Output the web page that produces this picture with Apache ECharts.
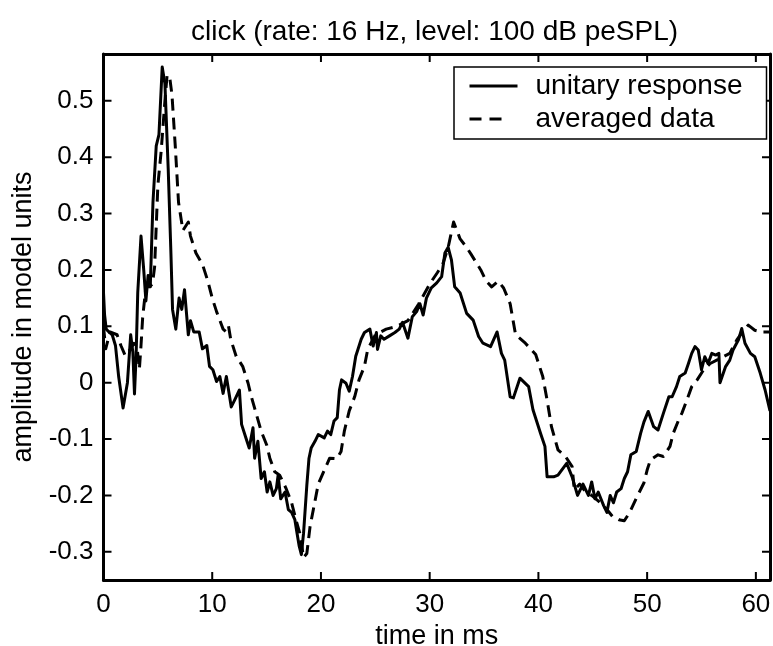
<!DOCTYPE html>
<html>
<head>
<meta charset="utf-8">
<script src="https://cdn.jsdelivr.net/npm/echarts@6/dist/echarts.min.js"></script>
<style>
html,body{margin:0;padding:0;background:#fff;}
#chart{width:773px;height:646px;}
</style>
</head>
<body>
<div id="chart"></div>
<script>
// ---- data ----
const unitaryTime = [0.0,0.1,0.25,0.5,0.8,1.1,1.4,1.8,2.2,2.5,2.7,2.85,3.0,3.15,3.45,3.7,3.9,4.1,4.3,4.55,4.85,5.1,5.4,5.65,5.95,6.2,6.35,6.65,6.95,7.2,7.45,7.8,8.0,8.3,8.8,9.1,9.5,9.75,10.06,10.4,10.7,11.0,11.3,11.75,12.06,12.5,12.7,13.1,13.4,13.75,13.9,14.2,14.5,14.8,15.05,15.3,15.6,15.9,16.06,16.3,16.7,17.0,17.3,17.6,17.8,18.0,18.2,18.4,18.7,18.9,19.1,19.45,19.75,20.3,20.6,20.9,21.2,21.5,21.7,21.9,22.3,22.6,22.9,23.2,23.4,23.7,24.0,24.5,24.8,25.1,25.2,25.5,25.8,26.3,26.8,27.2,27.5,28.0,28.4,28.8,29.1,29.4,29.7,30.15,30.65,31.1,31.4,31.7,32.0,32.3,32.8,33.4,34.0,34.5,34.9,35.6,36.2,36.6,36.9,37.4,37.7,38.3,39.1,39.5,40.2,40.6,40.8,41.4,41.8,42.6,43.1,43.6,44.1,44.6,44.9,45.2,45.5,46.0,46.3,46.6,46.9,47.2,47.6,47.9,48.2,48.5,49.0,49.4,49.7,50.1,50.6,51.0,51.5,52.0,52.3,52.7,53.0,53.5,53.8,54.1,54.4,54.7,55.0,55.3,55.6,55.95,56.3,56.6,56.7,57.2,57.6,57.9,58.4,58.7,59.0,59.5,59.9,60.4,60.85,61.3];
const unitaryValues = [0.16,0.12,0.095,0.09,0.085,0.066,0.01,-0.045,0.0,0.085,0.054,-0.02,0.048,0.16,0.26,0.2,0.145,0.19,0.17,0.32,0.42,0.44,0.56,0.53,0.38,0.23,0.13,0.095,0.15,0.13,0.165,0.085,0.11,0.09,0.09,0.06,0.066,0.029,0.023,0.002,0.011,-0.019,0.011,-0.043,-0.031,-0.013,-0.074,-0.098,-0.116,-0.08,-0.134,-0.104,-0.17,-0.158,-0.194,-0.176,-0.2,-0.188,-0.164,-0.206,-0.194,-0.225,-0.23,-0.243,-0.267,-0.29,-0.305,-0.267,-0.182,-0.134,-0.116,-0.104,-0.092,-0.098,-0.086,-0.092,-0.068,-0.062,-0.013,0.005,-0.001,-0.015,0.011,0.047,0.059,0.077,0.089,0.095,0.065,0.089,0.059,0.083,0.077,0.083,0.089,0.095,0.107,0.079,0.117,0.126,0.14,0.12,0.15,0.168,0.177,0.188,0.23,0.24,0.218,0.17,0.159,0.123,0.111,0.082,0.07,0.064,0.09,0.052,0.04,-0.025,-0.027,0.008,-0.007,-0.048,-0.09,-0.113,-0.167,-0.167,-0.164,-0.143,-0.167,-0.2,-0.18,-0.2,-0.176,-0.206,-0.194,-0.218,-0.23,-0.2,-0.213,-0.194,-0.188,-0.17,-0.158,-0.128,-0.122,-0.09,-0.07,-0.051,-0.078,-0.084,-0.054,-0.025,-0.025,-0.007,0.011,0.017,0.034,0.052,0.064,0.058,0.023,0.046,0.034,0.052,0.049,0.052,0.0,0.028,0.04,0.058,0.076,0.096,0.07,0.052,0.046,0.017,-0.013,-0.05];

const averagedTime = [0.0,0.2,0.6,1.25,1.6,2.0,2.5,2.8,3.1,3.3,3.45,3.6,3.9,4.2,4.5,4.7,5.0,5.3,5.65,5.85,6.1,6.3,6.6,6.9,7.3,7.8,8.0,8.5,9.1,9.6,10.0,10.4,11.0,11.3,11.5,11.7,12.2,12.8,13.3,13.6,14.06,14.5,15.0,15.3,15.75,16.2,16.8,17.3,17.7,18.05,18.4,18.7,19.0,19.3,19.75,20.2,20.8,21.45,21.85,22.15,22.6,23.1,23.5,24.0,24.3,25.0,26.0,27.0,28.0,29.0,30.0,30.7,31.2,31.7,32.2,32.8,33.4,33.8,34.7,35.2,35.7,36.3,36.8,37.4,37.9,38.8,39.75,40.4,40.8,41.2,41.8,42.5,43.1,43.3,43.8,44.2,44.9,45.7,46.3,46.8,47.4,47.9,48.4,49.0,49.7,50.0,50.3,51.0,51.5,52.1,52.4,52.9,53.2,53.65,54.1,54.6,55.2,55.8,56.4,57.0,57.6,58.25,58.9,59.3,59.9,60.55,61.3];
const averagedValues = [0.1,0.06,0.09,0.085,0.066,0.048,0.06,0.07,0.06,0.024,0.066,0.115,0.17,0.17,0.175,0.205,0.35,0.41,0.5,0.546,0.54,0.51,0.42,0.32,0.27,0.285,0.26,0.23,0.21,0.18,0.15,0.126,0.095,0.09,0.1,0.077,0.047,0.029,-0.001,-0.025,-0.056,-0.086,-0.11,-0.134,-0.158,-0.164,-0.188,-0.213,-0.243,-0.267,-0.31,-0.303,-0.255,-0.225,-0.18,-0.16,-0.134,-0.135,-0.122,-0.086,-0.05,-0.025,0.005,0.029,0.059,0.085,0.095,0.1,0.11,0.14,0.175,0.195,0.21,0.24,0.285,0.255,0.24,0.228,0.2,0.18,0.17,0.18,0.168,0.14,0.085,0.07,0.05,0.011,-0.031,-0.078,-0.119,-0.131,-0.149,-0.19,-0.18,-0.19,-0.2,-0.213,-0.225,-0.237,-0.243,-0.245,-0.23,-0.205,-0.178,-0.155,-0.137,-0.128,-0.131,-0.113,-0.09,-0.066,-0.054,-0.031,-0.007,0.005,0.023,0.034,0.04,0.046,0.052,0.076,0.093,0.102,0.093,0.09,0.09];

const xTicks = [0,10,20,30,40,50,60];
const yTicks = [-0.3,-0.2,-0.1,0,0.1,0.2,0.3,0.4,0.5];
const seriesNames = ['unitary response','averaged data'];
const titleText = 'click (rate: 16 Hz, level: 100 dB peSPL)';
const xName = 'time in ms';
const yName = 'amplitude in model units';

// ---- chart ----
const FONT = "'Liberation Sans', Arial, Helvetica, sans-serif";
const W = 773, H = 646;
const GRID = { left: 103.5, right: 3, top: 54, bottom: 66 };
const TICK_LEN = 8;
const zip = (a, b) => a.map((t, i) => [t, b[i]]);
const X_MIN = 0, X_MAX = 61.3, Y_MIN = -0.35, Y_MAX = 0.583;
const isTick = (list, v) => list.some(t => Math.abs(t - v) < 1e-6);
function axisLine() { return { show: true, onZero: false, lineStyle: { color: '#000', width: 3 } }; }
const noTicks = { show: false };

// MATLAB-style inward ticks on all four sides of the box, as one closed comb path
// that runs along the box edges (hidden under the axis lines) and spikes inward at each tick.
const tickDX = TICK_LEN * (X_MAX - X_MIN) / (W - GRID.left - GRID.right);
const tickDY = TICK_LEN * (Y_MAX - Y_MIN) / (H - GRID.top - GRID.bottom);
function buildTickComb() {
  const pts = [];
  pts.push([X_MIN, Y_MIN]);
  xTicks.forEach(v => { pts.push([v, Y_MIN], [v, Y_MIN + tickDY], [v, Y_MIN]); });
  pts.push([X_MAX, Y_MIN]);
  yTicks.forEach(v => { pts.push([X_MAX, v], [X_MAX - tickDX, v], [X_MAX, v]); });
  pts.push([X_MAX, Y_MAX]);
  xTicks.slice().reverse().forEach(v => { pts.push([v, Y_MAX], [v, Y_MAX - tickDY], [v, Y_MAX]); });
  pts.push([X_MIN, Y_MAX]);
  yTicks.slice().reverse().forEach(v => { pts.push([X_MIN, v], [X_MIN + tickDX, v], [X_MIN, v]); });
  pts.push([X_MIN, Y_MIN]);
  return pts;
}

const chart = echarts.init(document.getElementById('chart'), null, { renderer: 'canvas' });
chart.setOption({
  backgroundColor: '#fff',
  animation: false,
  title: {
    text: titleText,
    left: 429.5, top: 13, textAlign: 'center',
    textStyle: { fontFamily: FONT, fontSize: 28, fontWeight: 'normal', color: '#000' }
  },
  grid: { left: GRID.left, right: GRID.right, top: GRID.top, bottom: GRID.bottom, containLabel: false, outerBoundsMode: 'none' },
  legend: {
    orient: 'vertical', left: 454, top: 67,
    padding: [5, 24, 6, 14], itemGap: 5, itemWidth: 48, itemHeight: 14,
    borderColor: '#000', borderWidth: 1.5, backgroundColor: '#fff',
    itemStyle: { color: 'rgba(0,0,0,0)', borderColor: 'rgba(0,0,0,0)', borderWidth: 0, opacity: 0 },
    textStyle: { fontFamily: FONT, fontSize: 28, color: '#000', padding: [0, 0, 0, 13] },
    data: [
      { name: seriesNames[0], lineStyle: { width: 3, type: 'solid' } },
      { name: seriesNames[1], lineStyle: { width: 3, type: [12, 8, 12, 40] } }
    ]
  },
  xAxis: [
    {
      type: 'value', min: X_MIN, max: X_MAX, splitNumber: 6,
      axisLine: axisLine(), axisTick: noTicks,
      axisLabel: {
        fontFamily: FONT, fontSize: 26, color: '#000', margin: 12,
        formatter: v => (isTick(xTicks, v) ? String(Math.round(v)) : '')
      },
      splitLine: { show: false },
      name: xName, nameLocation: 'middle', nameGap: 34,
      nameTextStyle: { fontFamily: FONT, fontSize: 27, color: '#000' }
    },
    {
      type: 'value', min: X_MIN, max: X_MAX, splitNumber: 6, position: 'top',
      axisLine: axisLine(), axisTick: noTicks,
      axisLabel: { show: false }, splitLine: { show: false }
    }
  ],
  yAxis: [
    {
      type: 'value', min: Y_MIN, max: Y_MAX, splitNumber: 9,
      axisLine: axisLine(), axisTick: noTicks,
      axisLabel: {
        fontFamily: FONT, fontSize: 26, color: '#000', margin: 10,
        formatter: v => (isTick(yTicks, v) ? (Math.abs(v) < 1e-9 ? '0' : v.toFixed(1)) : '')
      },
      splitLine: { show: false },
      name: yName, nameLocation: 'middle', nameGap: 66, nameRotate: 90,
      nameTextStyle: { fontFamily: FONT, fontSize: 27, color: '#000' }
    },
    {
      type: 'value', min: Y_MIN, max: Y_MAX, splitNumber: 9, position: 'right',
      axisLine: axisLine(), axisTick: noTicks,
      axisLabel: { show: false }, splitLine: { show: false }
    }
  ],
  series: [
    {
      name: seriesNames[0], type: 'line', xAxisIndex: 0, yAxisIndex: 0,
      data: zip(unitaryTime, unitaryValues), symbol: 'none', smooth: false,
      lineStyle: { color: '#000', width: 3, type: 'solid', join: 'round' },
      itemStyle: { color: '#000' }
    },
    {
      name: seriesNames[1], type: 'line', xAxisIndex: 0, yAxisIndex: 0,
      data: zip(averagedTime, averagedValues), symbol: 'none', smooth: false,
      lineStyle: { color: '#000', width: 3, type: [12, 7], join: 'round' },
      itemStyle: { color: '#000' }
    },
    {
      name: 'box ticks', type: 'line', xAxisIndex: 0, yAxisIndex: 0,
      data: buildTickComb(), symbol: 'none', smooth: false, clip: false, silent: true,
      lineStyle: { color: '#000', width: 2, type: 'solid', join: 'bevel', cap: 'butt' },
      itemStyle: { color: '#000' }, z: 1, tooltip: { show: false }
    }
  ]
});
</script>
</body>
</html>
